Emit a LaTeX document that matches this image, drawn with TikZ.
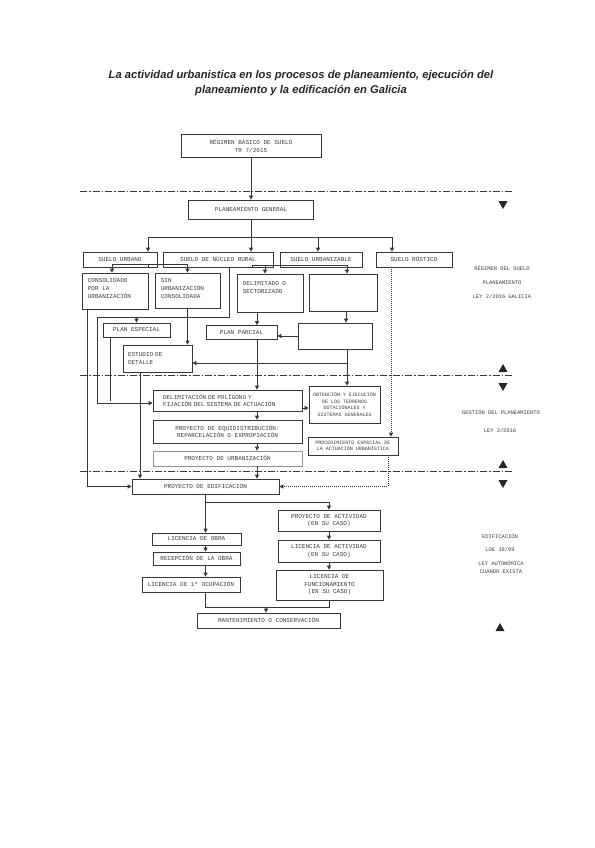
\documentclass[tikz,border=0pt]{standalone}
\usepackage{fontspec}
\setmainfont{Liberation Sans}
\newfontfamily\monofont{Liberation Mono}
\usetikzlibrary{arrows.meta,calc}
\definecolor{inkgray}{RGB}{55,55,55}
\definecolor{textgray}{RGB}{60,60,60}
\tikzset{
  box/.style={draw=inkgray, line width=0.7pt, fill=white, text=textgray,
    font=\monofont\fontsize{6}{7.6}\selectfont, align=center, inner sep=1pt},
  smallbox/.style={box, font=\monofont\fontsize{5}{6.4}\selectfont},
  intxt/.style={anchor=north west, align=left, text=textgray, xshift=5pt, yshift=-5pt,
    font=\monofont\fontsize{6}{7.6}\selectfont, inner sep=1pt},
  side/.style={text=textgray, font=\monofont\fontsize{5.4}{6.5}\selectfont},
  ttl/.style={align=center, text=black!85, font=\bfseries\itshape\fontsize{11.2}{14.5}\selectfont},
  flow/.style={draw=inkgray, line width=0.7pt, -{Triangle[length=4pt,width=4pt]}},
  link/.style={draw=inkgray, line width=0.7pt},
  dots/.style={dash pattern=on 0.8pt off 1.2pt},
  sepline/.style={draw=inkgray, line width=0.6pt, dash pattern=on 7pt off 2pt on 1.5pt off 2pt},
  tri/.style={fill=black!85, draw=none},
}

\begin{document}
\begin{tikzpicture}[x=1pt, y=-1pt]
\fill[white] (0,0) rectangle (594,848);
\useasboundingbox (0,0) rectangle (594,848);

%% Title
\node[ttl] (title) at (301,83)
  {La actividad urbanistica en los procesos de planeamiento, ejecución del\\
   planeamiento y la edificación en Galicia};

%% == separators and side marks ===============================================
\draw[sepline] (80,191) -- (512,191);
\draw[sepline] (80,375) -- (512,375);
\draw[sepline] (80,471) -- (512,471);

\fill[tri] (498.5,201) -- (507.5,201) -- (503,209) -- cycle;
\fill[tri] (498.5,372) -- (507.5,372) -- (503,364) -- cycle;
\fill[tri] (498.5,383) -- (507.5,383) -- (503,391) -- cycle;
\fill[tri] (498.5,468) -- (507.5,468) -- (503,460) -- cycle;
\fill[tri] (498.5,480) -- (507.5,480) -- (503,488) -- cycle;
\fill[tri] (495.5,631) -- (504.5,631) -- (500,623) -- cycle;

\node[side] (reg1) at (502,268) {RÉGIMEN DEL SUELO};
\node[side] (reg2) at (502,283) {PLANEAMIENTO};
\node[side] (reg3) at (502,297) {LEY 2/2016 GALICIA};
\node[side] (ges1) at (501,412) {GESTIÓN DEL PLANEAMIENTO};
\node[side] (ges2) at (500,431) {LEY 2/2016};
\node[side] (edi1) at (500,536) {EDIFICACIÓN};
\node[side] (edi2) at (500,550) {LOE 38/99};
\node[side] (edi3) at (501,563) {LEY AUTONÓMICA};
\node[side] (edi4) at (501,572) {CUANDO EXISTA};

%% == planeamiento ============================================================
\node[box, minimum width=140pt, minimum height=23pt] (rb) at (251,146)
  {RÉGIMEN BÁSICO DE SUELO\\TR 7/2015};
\node[box, minimum width=125pt, minimum height=19pt] (pg) at (251,209.5) {PLANEAMIENTO GENERAL};

\node[box, minimum width=74pt, minimum height=15pt]  (su)  at (120,259.5) {SUELO URBANO};
\node[box, minimum width=110pt, minimum height=15pt] (snr) at (218,259.5) {SUELO DE NÚCLEO RURAL};
\node[box, minimum width=82pt, minimum height=15pt]  (suz) at (321,259.5) {SUELO URBANIZABLE};
\node[box, minimum width=76pt, minimum height=15pt]  (sr)  at (414,259.5) {SUELO RÚSTICO};

\node[box, minimum width=66pt, minimum height=36pt,
      label={[intxt]north west:{CONSOLIDADO\\POR LA\\URBANIZACIÓN}}] (cpu) at (115,291) {};
\node[box, minimum width=65pt, minimum height=35pt,
      label={[intxt]north west:{SIN\\URBANIZACIÓN\\CONSOLIDADA}}] (suc) at (187.5,290.5) {};
\node[box, minimum width=66pt, minimum height=38pt,
      label={[intxt, yshift=-2pt]north west:{DELIMITADO O\\SECTORIZADO}}] (ds) at (270,293) {};
\node[box, minimum width=68pt, minimum height=37pt] (nd) at (343,292.5) {};

\node[box, minimum width=67pt, minimum height=14pt] (pe) at (136.5,330) {PLAN ESPECIAL};
\node[box, minimum width=71pt, minimum height=14pt] (pp) at (241.5,332.5) {PLAN PARCIAL};
\node[box, minimum width=74pt, minimum height=26pt] (e2) at (335,336) {};
\node[box, align=left, text width=59pt, inner xsep=5pt, minimum height=27pt] (ed) at (157.5,358.5)
  {ESTUDIO DE\\DETALLE};

%% == gestion =================================================================
\node[box, align=left, text width=129pt, inner xsep=10pt, minimum height=21pt] (dpf) at (227.5,400.5)
  {DELIMITACIÓN DE POLÍGONO Y\\FIJACIÓN DEL SISTEMA DE ACTUACIÓN};
\node[box, minimum width=149pt, minimum height=23pt] (peq) at (227.5,431.5)
  {PROYECTO DE EQUIDISTRIBUCIÓN:\\REPARCELACIÓN O EXPROPIACIÓN};
\node[box, draw=inkgray!55, minimum width=149pt, minimum height=15pt] (pu) at (227.5,458.5)
  {PROYECTO DE URBANIZACIÓN};
\node[smallbox, minimum width=71pt, minimum height=37pt] (co) at (344.5,404.5)
  {OBTENCIÓN Y EJECUCIÓN\\DE LOS TERRENOS\\DOTACIONALES Y\\SISTEMAS GENERALES};
\node[smallbox, minimum width=90pt, minimum height=18pt] (pesp) at (353,446)
  {PROCEDIMIENTO ESPECIAL DE\\LA ACTUACIÓN URBANÍSTICA};

%% == edificacion =============================================================
\node[box, minimum width=147pt, minimum height=15pt] (ped) at (205.5,486.5) {PROYECTO DE EDIFICACIÓN};
\node[box, minimum width=89pt, minimum height=12pt]  (lo)  at (196.5,539)   {LICENCIA DE OBRA};
\node[box, minimum width=87pt, minimum height=13pt]  (ro)  at (196.5,558.5) {RECEPCIÓN DE LA OBRA};
\node[box, minimum width=98pt, minimum height=15pt]  (lpo) at (191,584.5)   {LICENCIA DE 1ª OCUPACIÓN};
\node[box, minimum width=102pt, minimum height=21pt] (pa)  at (329,520.5)   {PROYECTO DE ACTIVIDAD\\(EN SU CASO)};
\node[box, minimum width=102pt, minimum height=22pt] (la)  at (329,551)     {LICENCIA DE ACTIVIDAD\\(EN SU CASO)};
\node[box, minimum width=107pt, minimum height=30pt] (lf)  at (329.5,585)   {LICENCIA DE\\FUNCIONAMIENTO\\(EN SU CASO)};
\node[box, minimum width=143pt, minimum height=15pt] (mc)  at (268.5,620.5) {MANTENIMIENTO O CONSERVACIÓN};

%% == connectors ==============================================================
\coordinate (bus)  at (251,237);
\coordinate (suj)  at (148,264);
\coordinate (nrc)  at (97,317);
\coordinate (uzj)  at (252,265);
\coordinate (edj)  at (347,363);
\coordinate (edfj) at (205.5,502);
\coordinate (mcj)  at (266,607);

\draw[flow] (rb.south) -- (pg.north);
\draw[flow] (pg.south) -- (pg.south |- snr.north);
\draw[flow] (bus) -| ([xshift=28]su.north);
\draw[flow] (bus) -| ([xshift=-3]suz.north);
\draw[flow] (bus) -| ([xshift=-22]sr.north);

% suelo urbano
\draw[link] ([xshift=28]su.south) -- (suj);
\draw[flow] (suj) -| ([xshift=-3]cpu.north);
\draw[flow] (suj) -| (suc.north);
\draw[flow] ([xshift=-28]cpu.south) |- (ped.west);
\draw[flow] (suc.south) -- (suc.south |- ed.north);

% nucleo rural
\draw[link] ([xshift=11]snr.south) |- (nrc);
\draw[flow] (nrc) |- ([yshift=-2.5]dpf.west);
\draw[flow] (pe.north |- nrc) -- (pe.north);
\draw[link] ([xshift=-26.5]pe.south) -- ([xshift=-26.5]pe.south |- dpf.west);
\draw[flow] ([xshift=-17.5]ed.south) -- ([xshift=-17.5]ed.south |- ped.north);

% urbanizable
\draw[link] ([xshift=34]snr.south) -- (uzj);
\draw[flow] (uzj) -| ([xshift=-5]ds.north);
\draw[flow] (uzj) -| ([xshift=4]nd.north);
\draw[flow] ([xshift=-13]ds.south) -- ([xshift=-13]ds.south |- pp.north);
\draw[flow] ([xshift=3]nd.south) -- ([xshift=3]nd.south |- e2.north);
\draw[flow] (e2.west) -- (e2.west -| pp.east);
\draw[link] ([xshift=12]e2.south) -- (edj);
\draw[flow] (edj) -- (edj -| ed.east);
\draw[flow] (edj) -- (edj |- co.north);
\draw[flow] ([xshift=15.5]pp.south) -- ([xshift=15.5]pp.south |- dpf.north);

% gestion
\draw[flow] ([xshift=29.5]dpf.south) -- ([xshift=29.5]peq.north);
\draw[flow] ([xshift=29.5]peq.south) -- ([xshift=29.5]pu.north);
\draw[flow] ([xshift=29.5]pu.south) -- ([xshift=29.5]pu.south |- ped.north);
\draw[flow] ([yshift=-7.5]dpf.east) -- ([yshift=-7.5]dpf.east -| co.west);

% rustico
\draw[flow, dots] ([xshift=-23]sr.south) -- ([xshift=-23]sr.south |- pesp.north);
\draw[flow, dots] ([xshift=35]pesp.south) |- (ped.east);

% edificacion
\draw[flow] (ped.south) -- (ped.south |- lo.north);
\draw[flow] (edfj) -| (pa.north);
\draw[flow] ([xshift=9]lo.south) -- ([xshift=9]ro.north);
\draw[flow] ([xshift=9]ro.south) -- ([xshift=14.5]lpo.north);
\draw[flow] (pa.south) -- (la.north);
\draw[flow] (la.south) -- (la.south |- lf.north);
\draw[link] ([xshift=14.5]lpo.south) |- (mcj -| lf.south) -- (lf.south);
\draw[flow] (mcj) -- (mcj |- mc.north);

\end{tikzpicture}
\end{document}
